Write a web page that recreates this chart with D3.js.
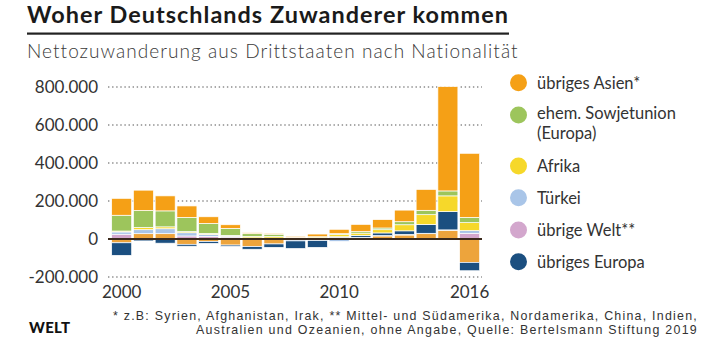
<!DOCTYPE html>
<html>
<head>
<meta charset="utf-8">
<script src="https://cdn.jsdelivr.net/npm/d3@7"></script>
<style>
body{margin:0;background:#fff;}
svg text{font-family:Lato,"Noto Sans",sans-serif;}
</style>
</head>
<body>
<svg id="chart" width="720" height="344"></svg>
<script>
// jahre + netto-zuwanderung je herkunft (personen)
const years = [2000,2001,2002,2003,2004,2005,2006,2007,2008,2009,2010,2011,2012,2013,2014,2015,2016];
const asien   = [89000,107000,79000,60000,35000,19000,5000,5000,6000,14000,23000,38000,44000,61000,110000,549000,337000];
const sowjet  = [83000,89000,84000,75000,53000,37000,14000,12000,2000,2000,4000,8000,9000,16000,23000,26000,28000];
const afrika  = [5000,12000,10000,6000,5000,4000,8000,8000,4000,6000,12000,12000,17000,32000,51000,83000,42000];
const tuerkei = [12000,21000,26000,17000,10000,5000,3000,2000,-10000,-8000,-13000,-4000,2000,3000,2000,2000,14000];
const welt    = [25000,0,0,16000,14000,10000,3000,3000,2000,4000,9000,5000,0,0,0,0,30000];
const europa  = [-66000,-10000,-22000,-10000,-10000,-7000,-14000,-18000,-40000,-36000,3000,10000,14000,19000,47000,96000,-44000];
const ohneZuordnung = [-20000,28000,28000,-28000,-13000,-32000,-40000,-26000,0,0,0,4000,16000,21000,28000,46000,-123000];

const yTicks = [-200000,0,200000,400000,600000,800000];
const xLabels = [2000,2005,2010,2016];

// legende (reihenfolge von oben)
const legendKeys   = ["asien","sowjet","afrika","tuerkei","welt","europa"];
const legendLabels = [["übriges Asien*"],["ehem. Sowjetunion","(Europa)"],["Afrika"],["Türkei"],["übrige Welt**"],["übriges Europa"]];

const footnote = [
    "* z.B: Syrien, Afghanistan, Irak, ** Mittel- und Südamerika, Nordamerika, China, Indien,",
    "Australien und Ozeanien, ohne Angabe, Quelle: Bertelsmann Stiftung 2019"
];

const colors = {
    asien:"#f5a016", sowjet:"#9dc55c", afrika:"#f6d82a", tuerkei:"#a9c5e8",
    welt:"#d3a7cd", europa:"#1b4f80", ohneZuordnung:"#eda43c"
};

const stackKeys = ["ohneZuordnung","welt","tuerkei","europa","afrika","sowjet","asien"];
const table = years.map((yr,i)=>({
    year:yr, asien:asien[i], sowjet:sowjet[i], afrika:afrika[i], tuerkei:tuerkei[i],
    welt:welt[i], europa:europa[i], ohneZuordnung:ohneZuordnung[i]
}));

const de = d3.formatLocale({decimal:",", thousands:".", grouping:[3], currency:["","€"], minus:"-"});
const fmt = de.format(",d");

// text auf zielbreite bringen: teils schriftgroesse, rest laufweite
function fit(sel, target, share){
    const w0 = sel.node().getComputedTextLength();
    const fs = parseFloat(sel.style("font-size"));
    sel.style("font-size", fs*(1+(target/w0-1)*share)+"px");
    const w1 = sel.node().getComputedTextLength();
    const n = sel.text().length;
    sel.style("letter-spacing", ((target-w1)/n)+"px");
}

const svg = d3.select("#chart");

// kopf
const title = svg.append("text").attr("x",27).attr("y",23)
    .style("font-size","21.5px").style("font-weight","700").style("fill","#1a1a1a")
    .text("Woher Deutschlands Zuwanderer kommen");
fit(title, 482, 0.5);
svg.append("rect").attr("x",27).attr("y",32.5).attr("width",482).attr("height",2.2).attr("fill","#222");
const sub = svg.append("text").attr("x",27).attr("y",58)
    .style("font-size","17.5px").style("font-weight","300").style("fill","#3a3a3a")
    .text("Nettozuwanderung aus Drittstaaten nach Nationalität");
fit(sub, 491, 0.4);

const x = d3.scaleBand().domain(years).range([110.8,480.5]).paddingInner(0.08).paddingOuter(0.04);
const y = d3.scaleLinear().domain([-200000,800000]).range([277,87]);

// raster
svg.append("g").selectAll("line").data(yTicks.filter(d=>d!==0)).join("line")
    .attr("x1",108).attr("x2",482)
    .attr("y1",d=>y(d)).attr("y2",d=>y(d))
    .attr("stroke","#8c8c8c").attr("stroke-width",1.4)
    .attr("stroke-dasharray","1.4,2.7");

// y-achse
svg.append("g").selectAll("text").data(yTicks).join("text")
    .attr("x",98).attr("y",d=>y(d)).attr("dy","0.36em")
    .attr("text-anchor","end")
    .style("font-size","17px").style("fill","#333")
    .text(d=>fmt(d));

// balken
const series = d3.stack().keys(stackKeys).offset(d3.stackOffsetDiverging)(table);
svg.append("g").selectAll("g").data(series).join("g")
    .attr("fill",d=>colors[d.key])
    .selectAll("rect").data(d=>d.filter(p=>p[1]!==p[0])).join("rect")
    .attr("x",d=>x(d.data.year))
    .attr("width",x.bandwidth())
    .attr("y",d=>y(Math.max(d[0],d[1])))
    .attr("height",d=>Math.abs(y(d[0])-y(d[1])))
    .attr("stroke","#fff").attr("stroke-width",0.7);

// nulllinie
svg.append("line").attr("x1",108).attr("x2",482).attr("y1",y(0)).attr("y2",y(0))
    .attr("stroke","#3b2a1c").attr("stroke-width",2);

// x-achse
svg.append("g").selectAll("text").data(xLabels).join("text")
    .attr("x",d=>x(d)+x.bandwidth()/2).attr("y",298)
    .attr("text-anchor","middle")
    .style("font-size","17px").style("fill","#333")
    .text(d=>d);

// legende
const legendY = [82.7,115,166,197.7,230,261.7];
const lg = svg.append("g").selectAll("g").data(legendKeys).join("g");
lg.append("circle").attr("cx",518.5).attr("cy",(d,i)=>legendY[i]).attr("r",8.5)
    .attr("fill",d=>colors[d]);
lg.append("text")
    .attr("y",(d,i)=>legendY[i] + (legendLabels[i].length>1 ? 3.8 : 6.1))
    .style("font-size","16.5px").style("fill","#333")
    .selectAll("tspan").data((d,i)=>legendLabels[i]).join("tspan")
    .attr("x",537).attr("dy",(t,j)=>j ? 20 : 0)
    .text(t=>t);

// fussnote + logo
const fn = svg.append("text").attr("y",319.5).attr("text-anchor","end")
    .style("font-family","'Liberation Sans',Arial,sans-serif")
    .style("font-size","12.4px").style("fill","#333");
fn.selectAll("tspan").data(footnote).join("tspan")
    .attr("x",698).attr("dy",(t,j)=>j ? 14 : 0)
    .text(t=>t);
const fnTargets = [585, 502];
fn.selectAll("tspan").each(function(t,j){
    const w = this.getComputedTextLength();
    d3.select(this).style("letter-spacing", ((fnTargets[j]-w)/t.length)+"px");
});
svg.append("text").attr("x",29).attr("y",333)
    .style("font-size","15px").style("font-weight","900").style("fill","#111")
    .style("letter-spacing","0.3px")
    .text("WELT");
</script>
</body>
</html>
